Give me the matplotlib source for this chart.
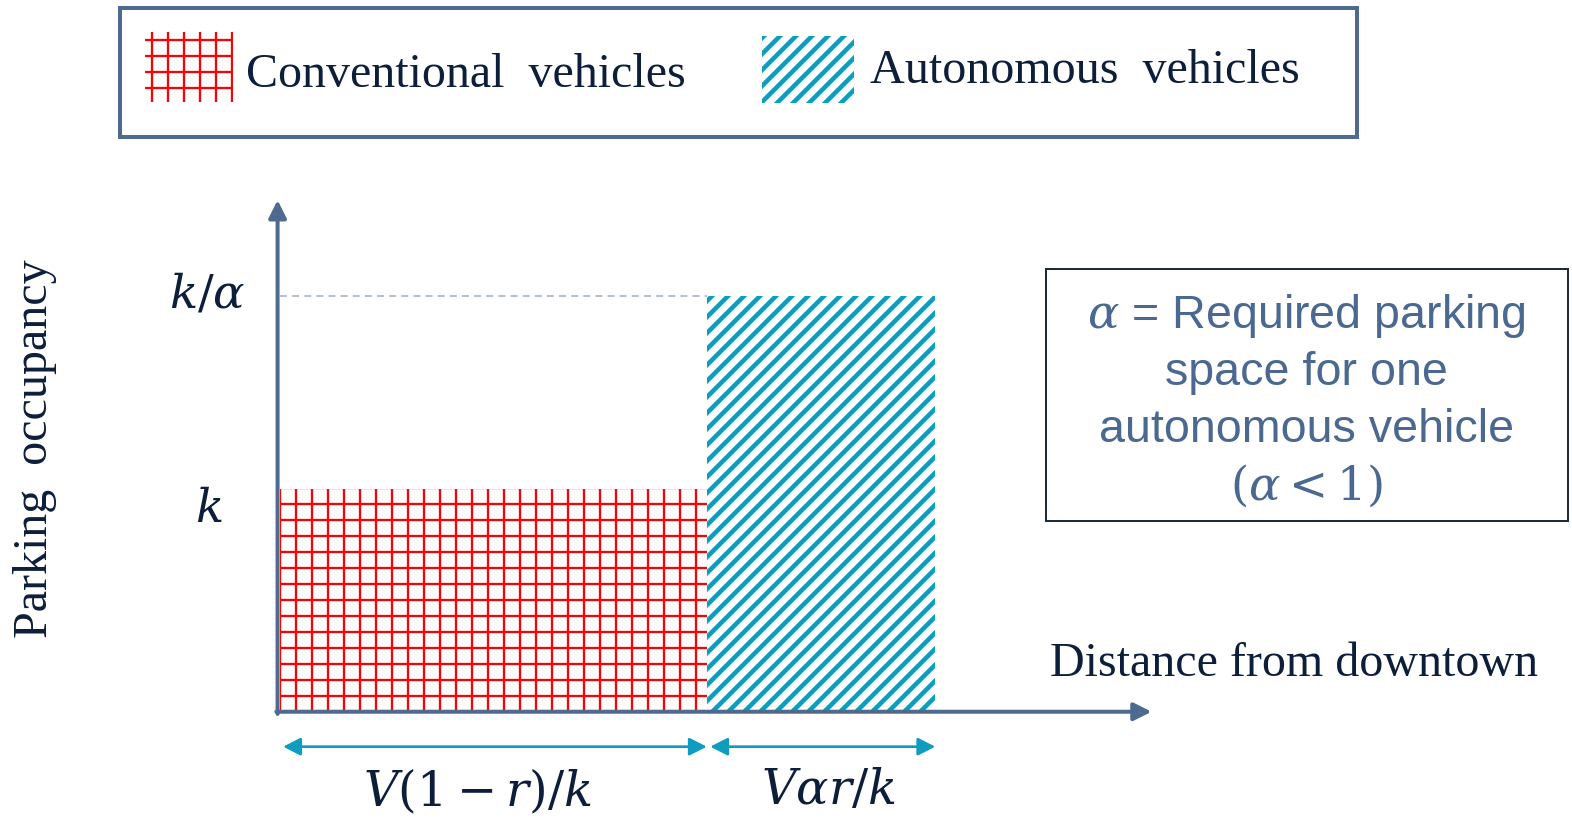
import numpy as np
import matplotlib
matplotlib.use('Agg')
import matplotlib.pyplot as plt
from matplotlib.patches import Rectangle

# model values (k = 1, V = 1)
k = 1.0
V = 1.0
r = 0.5
alpha = 0.535

widths = [V * (1 - r) / k, V * alpha * r / k]
heights = [k, k / alpha]
legend_labels = ['Conventional  vehicles', 'Autonomous  vehicles']
width_labels = [r'$V(1-r)/k$', r'$V\alpha r/k$']
height_labels = [r'$k$', r'$k/\alpha$']
note_lines = [r'$\alpha$ = Required parking', 'space for one',
              'autonomous vehicle', r'$(\alpha < 1)$']

RED = '#FF0000'
TEAL = '#0E9DBF'
SLATE = '#4F6A8F'
NAVY = '#0D1E3B'
NOTE = '#4A6890'

plt.rcParams['mathtext.fontset'] = 'dejavuserif'
plt.rcParams['font.family'] = 'Liberation Serif'

DPI = 96
W, H = 1572, 818
# positions below were measured on a 1568 x 816 view of the sketch
VW, VH = 1568, 816
fig = plt.figure(figsize=(W / DPI, H / DPI), dpi=DPI)

# one axes over the whole canvas; data units scaled so the sketch fits
sx, sy = 852, 222          # view pixels per data unit
x0, y0 = 279, VH - 710     # origin (from left / bottom)
ax = fig.add_axes([0, 0, 1, 1])
ax.set_xlim(-x0 / sx, (VW - x0) / sx)
ax.set_ylim(-y0 / sy, (VH - y0) / sy)
ax.axis('off')

def fx(px):
    return px / VW

def fy(py):
    # py measured from the top of the picture
    return 1 - py / VH

lefts = np.concatenate([[0], np.cumsum(widths)[:-1]])
bars = ax.bar(lefts, heights, width=widths, align='edge', color='none', linewidth=0)
for bar, hatch, col, hlw in zip(bars, ['+', '//'], [RED, TEAL], [1.7, 3.4]):
    bar.set_hatch(hatch)
    bar.set_edgecolor(col)
    if hasattr(bar, 'set_hatch_linewidth'):
        bar.set_hatch_linewidth(hlw)

# dashed guide at k/alpha
ax.plot([0, lefts[1]], [heights[1], heights[1]], ls=(0, (4, 3)), color='#A7B7CB', lw=1.3)

# axes drawn as arrows
x_end = sum(widths) * 1.33
y_end = max(heights) * 1.23
axis_kw = dict(arrowstyle='-|>,head_length=0.7,head_width=0.35', color=SLATE,
               lw=3, shrinkA=0, shrinkB=0, mutation_scale=16)
ax.annotate('', xy=(x_end, 0), xytext=(-0.004, 0), arrowprops=axis_kw)
ax.annotate('', xy=(-0.0025, y_end), xytext=(-0.0025, -0.01), arrowprops=axis_kw)

# height labels
ax.text(-0.083, heights[0], height_labels[0], ha='center', va='top', fontsize=35, color=NAVY)
ax.text(-0.085, heights[1], height_labels[1], ha='center', va='center', fontsize=35, color=NAVY)

# width arrows and labels
y_arr = -0.157
arr_kw = dict(arrowstyle='<|-|>,head_length=0.55,head_width=0.28', color=TEAL,
              lw=2, shrinkA=0, shrinkB=0, mutation_scale=20)
for left, w, lab, nudge in zip(lefts, widths, width_labels, [-0.019, 0.009]):
    ax.annotate('', xy=(left + 0.004, y_arr), xytext=(left + w, y_arr), arrowprops=arr_kw)
    ax.text(left + w / 2 + nudge, -0.36, lab, ha='center', va='center', fontsize=36, color=NAVY)

# axis titles
fig.text(fx(35), fy(448), 'Parking  occupancy', rotation=90, ha='center', va='center',
         fontsize=36, color=NAVY)
fig.text(fx(1047), fy(674), 'Distance from downtown', ha='left', va='baseline',
         fontsize=36, color=NAVY)

# legend box
fig.patches.append(Rectangle((fx(120), fy(137)), fx(1354) - fx(120), fy(8) - fy(137),
                             transform=fig.transFigure, fill=False, lw=3, ec=SLATE))
sw = [(145, 32, 232, 102), (760, 36, 852, 103)]
for (l, t, rr, b), hatch, col, hlw, lab, tx, base in zip(
        sw, ['+', '//'], [RED, TEAL], [1.7, 3.4], legend_labels, [245, 868], [87, 83]):
    p = Rectangle((fx(l), fy(b)), fx(rr) - fx(l), fy(t) - fy(b), transform=fig.transFigure,
                  fill=False, lw=0, ec=col, hatch=hatch)
    if hasattr(p, 'set_hatch_linewidth'):
        p.set_hatch_linewidth(hlw)
    fig.patches.append(p)
    fig.text(fx(tx), fy(base), lab, ha='left', va='baseline', fontsize=36, color=NAVY)

# note box
fig.patches.append(Rectangle((fx(1043), fy(520)), fx(1564) - fx(1043), fy(268) - fy(520),
                             transform=fig.transFigure, fill=False, lw=1.5, ec='#1E2B3A'))
for line, base in zip(note_lines, [327, 384, 441, 498]):
    fig.text(fx(1303), fy(base), line, ha='center', va='baseline', fontsize=35,
             color=NOTE, family='Liberation Sans')

fig.savefig('out.png', dpi=DPI)
